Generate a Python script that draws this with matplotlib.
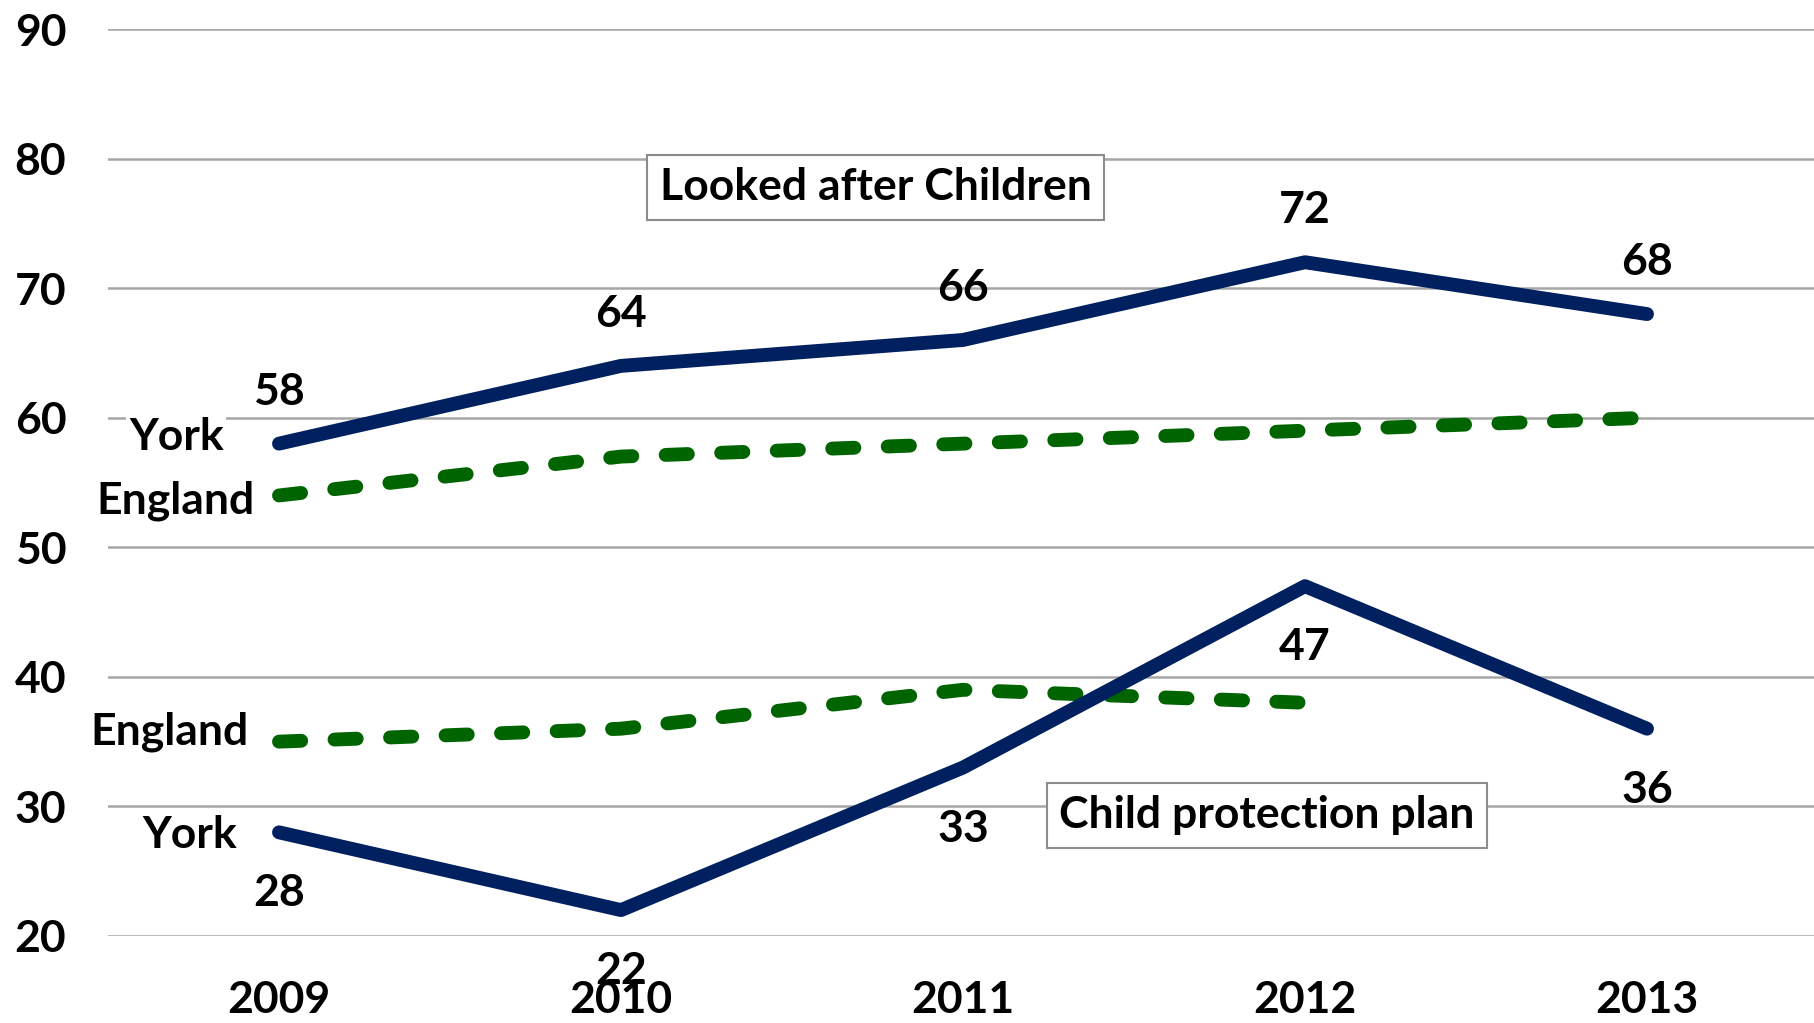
import matplotlib.pyplot as plt

years = ['2009', '2010', '2011', '2012', '2013']
lac_york = [58, 64, 66, 72, 68]
lac_england = [54, 57, 58, 59, 60]
cpp_york = [28, 22, 33, 47, 36]
cpp_england = [35, 36, 39, 38]

navy = '#002060'
green = '#006400'
font = 'Lato'

fig = plt.figure(figsize=(18.14, 10.23), dpi=100)
ax = fig.add_axes([108 / 1814, 87 / 1023, 1710 / 1814, 907 / 1023])

x = list(range(len(years)))

ax.plot(x, lac_york, color=navy, lw=10, solid_capstyle='round', solid_joinstyle='round', zorder=3)
ax.plot(x, cpp_york, color=navy, lw=10, solid_capstyle='round', solid_joinstyle='round', zorder=3)
ax.plot(x, lac_england, color=green, lw=10, dashes=(1.6, 2.4), dash_capstyle='round', zorder=2)
ax.plot(x[:len(cpp_england)], cpp_england, color=green, lw=10, dashes=(1.6, 2.4),
        dash_capstyle='round', zorder=2)

txt = {'fontsize': 32, 'fontweight': 'bold', 'family': font, 'color': 'black'}

# data labels
for xi, v in zip(x, lac_york):
    ax.annotate(str(v), (xi, v), xytext=(0, 37.5), textcoords='offset points',
                ha='center', va='center', **txt)
for xi, v in zip(x, cpp_york):
    ax.annotate(str(v), (xi, v), xytext=(0, -44), textcoords='offset points',
                ha='center', va='center', **txt)

# series names
box = {'facecolor': 'white', 'edgecolor': 'none', 'pad': 2}
ax.text(-0.30, 58.5, 'York', ha='center', va='center', bbox=box, **txt)
ax.text(-0.304, 53.6, 'England', ha='center', va='center', bbox=box, **txt)
ax.text(-0.319, 35.8, 'England', ha='center', va='center', bbox=box, **txt)
ax.text(-0.26, 27.8, 'York', ha='center', va='center', bbox=box, **txt)

# group titles
frame = {'facecolor': 'white', 'edgecolor': '#8c8c8c', 'lw': 1.5, 'pad': 9}
ax.text(1.745, 77.8, 'Looked after Children', ha='center', va='center', bbox=frame, **txt)
ax.text(2.889, 29.3, 'Child protection plan', ha='center', va='center', bbox=frame, **txt)

ax.set_xlim(-0.5, 4.5)
ax.set_ylim(20, 90)
ax.set_yticks(range(20, 91, 10))
ax.set_xticks(x)
ax.set_xticklabels(years)
ax.grid(axis='y', color='#a6a6a6', lw=1.8, zorder=0)
ax.set_axisbelow(True)
for s in ax.spines.values():
    s.set_visible(False)
ax.tick_params(length=0)
ax.tick_params(axis='y', pad=30)
ax.tick_params(axis='x', pad=32)
for lab in ax.get_xticklabels() + ax.get_yticklabels():
    lab.set_fontsize(32)
    lab.set_fontweight('bold')
    lab.set_family(font)

fig.savefig('out.png', dpi=100)
